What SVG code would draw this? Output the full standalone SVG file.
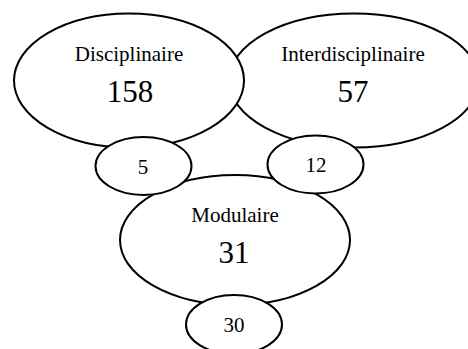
<svg xmlns="http://www.w3.org/2000/svg" width="468" height="349" viewBox="0 0 468 349">
<style>
.n ellipse{fill:#fff;stroke:#000;stroke-width:2}
text{font-family:"Liberation Serif","Times New Roman",serif;fill:#000;text-anchor:middle}
.l{font-size:21px}
.b{font-size:31px}
</style>
<rect width="468" height="349" fill="#fff"/>
<g id="connectors"></g>
<g id="interdisciplinaire" class="n">
<ellipse cx="354" cy="80.5" rx="125" ry="67"/>
<text class="l" x="353" y="61">Interdisciplinaire</text>
<text class="b" x="353" y="102">57</text>
</g>
<g id="disciplinaire" class="n">
<ellipse cx="129" cy="80.5" rx="115" ry="67"/>
<text class="l" x="129" y="61">Disciplinaire</text>
<text class="b" x="130" y="102">158</text>
</g>
<g id="modulaire" class="n">
<ellipse cx="235" cy="240" rx="115" ry="65"/>
<text class="l" x="235" y="222">Modulaire</text>
<text class="b" x="234" y="263">31</text>
</g>
<g id="n5" class="n">
<ellipse cx="143.5" cy="166" rx="48" ry="29"/>
<text class="l" x="143" y="174">5</text>
</g>
<g id="n12" class="n">
<ellipse cx="315.5" cy="164.5" rx="48" ry="29"/>
<text class="l" x="316" y="172">12</text>
</g>
<g id="n30" class="n">
<ellipse cx="234" cy="324.5" rx="48" ry="29.5"/>
<text class="l" x="234" y="332">30</text>
</g>
</svg>
